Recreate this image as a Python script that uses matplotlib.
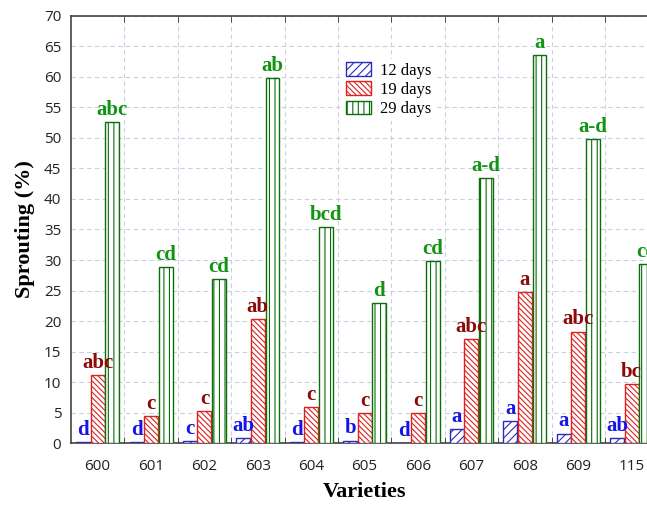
import numpy as np
import matplotlib.pyplot as plt
from matplotlib.ticker import MultipleLocator

varieties = ['600', '601', '602', '603', '604', '605', '606', '607', '608', '609', '115']
days12 = [0.15, 0.15, 0.3, 0.9, 0.15, 0.45, 0.0, 2.3, 3.6, 1.6, 0.9]
days19 = [11.1, 4.4, 5.3, 20.3, 6.0, 5.0, 5.0, 17.0, 24.7, 18.3, 9.7]
days29 = [52.6, 28.9, 26.9, 59.8, 35.4, 23.0, 29.9, 43.4, 63.5, 49.8, 29.4]
let12 = ['d', 'd', 'c', 'ab', 'd', 'b', 'd', 'a', 'a', 'a', 'ab']
let19 = ['abc', 'c', 'c', 'ab', 'c', 'c', 'c', 'abc', 'a', 'abc', 'bc']
let29 = ['abc', 'cd', 'cd', 'ab', 'bcd', 'd', 'cd', 'a-d', 'a', 'a-d', 'cd']

plt.rcParams['hatch.linewidth'] = 0.8

fig = plt.figure(figsize=(6.47, 5.05), dpi=100)
# axes runs past the right edge, the original picture is cropped there
ax = fig.add_axes([0.1096, 0.1222, 0.9079, 0.8467])

x = np.arange(len(varieties))
w = 0.26
series = [
    (days12, let12, -0.27, '////', '#2a2ac0', '#1515e6', '12 days'),
    (days19, let19, 0.0, '\\\\\\\\\\\\', '#e02020', '#8b0a0a', '19 days'),
    (days29, let29, 0.275, '|||', '#0a6e0a', '#129412', '29 days'),
]
for vals, lets, off, hatch, ec, tc, lab in series:
    ax.bar(x + off, vals, w, facecolor='white', edgecolor=ec, hatch=hatch,
           linewidth=1.0, label=lab, zorder=3)
    for xi, v, t in zip(x + off, vals, lets):
        ax.annotate(t, (xi, v), xytext=(0, 1.5), textcoords='offset points',
                    ha='center', va='bottom', fontsize=15, fontweight='bold',
                    family='Liberation Serif', color=tc, zorder=4,
                    annotation_clip=False)

ax.set_xlim(-0.5, 10.5)
ax.set_ylim(0, 70)
ax.yaxis.set_major_locator(MultipleLocator(5))
ax.set_xticks(x)
ax.set_xticklabels(varieties)
ax.set_xticks(x[:-1] + 0.5, minor=True)
ax.tick_params(axis='x', which='major', length=0, pad=11, labelsize=11)
ax.tick_params(axis='x', which='minor', direction='in', length=4, top=True,
               bottom=True, color='#333333')
ax.tick_params(axis='y', which='major', direction='in', length=0, pad=7,
               labelsize=11)
for lb in ax.get_xticklabels() + ax.get_yticklabels():
    lb.set_family('Open Sans')
    lb.set_color('#222222')

ax.grid(axis='y', which='major', linestyle=(0, (4, 3)), color='#c9d0e6',
        linewidth=0.8, zorder=0)
ax.grid(axis='x', which='minor', linestyle=(0, (4, 3)), color='#c9d0e6',
        linewidth=0.8, zorder=0)
for s in ax.spines.values():
    s.set_color('#444444')
    s.set_linewidth(1.2)

ax.set_xlabel('Varieties', fontsize=16, fontweight='bold',
              family='Liberation Serif', labelpad=6)
ax.set_ylabel('Sprouting (%)', fontsize=16, fontweight='bold',
              family='Liberation Serif', labelpad=6)

leg = ax.legend(loc='upper left', bbox_to_anchor=(0.463, 0.899),
                borderaxespad=0, borderpad=0.2, frameon=True, fancybox=False,
                edgecolor='none', facecolor='white', framealpha=1,
                prop={'family': 'Liberation Serif', 'size': 12},
                handlelength=1.5, handleheight=0.9, labelspacing=0.15,
                handletextpad=0.5)

fig.savefig('out.png', dpi=100)
